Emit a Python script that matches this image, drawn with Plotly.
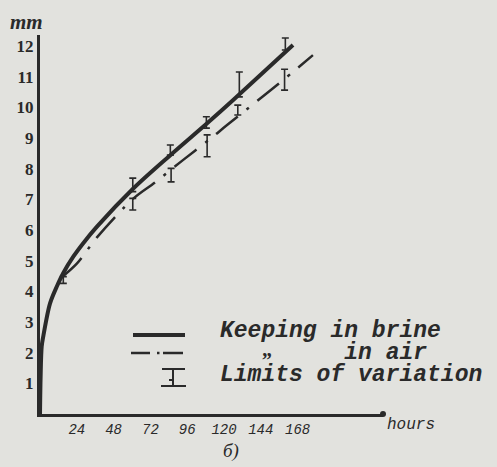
import plotly.graph_objects as go

# ---- data ----
brine_hours = [0, 0.4, 1.1, 2.2, 6.5, 10.9, 15.2, 21.7, 28.2, 37, 61, 85, 109, 126, 165]
brine_mm = [0, 1.2, 2.2, 2.55, 3.6, 4.15, 4.6, 5.13, 5.57, 6.1, 7.36, 8.44, 9.48, 10.24, 12.03]

air_hours = [14, 24, 37, 61, 75, 93, 111, 122, 141, 154, 178]
air_mm = [4.45, 4.9, 5.75, 7.03, 7.55, 8.27, 8.97, 9.42, 10.18, 10.7, 11.7]

brine_bar_hours = [15.2, 60.5, 85, 108.5, 130, 160]
brine_bar_low = [4.26, 7.25, 8.44, 9.32, 10.34, 11.87]
brine_bar_high = [4.48, 7.69, 8.77, 9.69, 11.15, 12.26]

air_bar_hours = [60.5, 85.5, 109, 129, 159.5]
air_bar_low = [6.65, 7.57, 8.39, 9.75, 10.56]
air_bar_high = [7.03, 8.01, 9.10, 10.07, 11.24]

x_ticks = [24, 48, 72, 96, 120, 144, 168]
y_ticks = list(range(1, 13))

NB = "\u00a0"
legend_labels = ["Keeping in brine", NB * 9 + "in air", "Limits of variation"]
ditto_mark = "\u201e"

INK = "#2a2a2a"
BG = "#e2e2de"

W, H = 497, 467
L, R, T, B = 40, 383, 35, 414  # plot area in pixels


def px(xp):
    return (xp - L) / (R - L)


def py(yp):
    return (B - yp) / (B - T)


fig = go.Figure()

fig.add_trace(go.Scatter(x=brine_hours, y=brine_mm, mode="lines",
                         line=dict(color=INK, width=4, shape="spline", smoothing=0.9),
                         hoverinfo="skip"))
fig.add_trace(go.Scatter(x=air_hours, y=air_mm, mode="lines",
                         line=dict(color=INK, width=2.5, shape="spline", smoothing=0.9,
                                   dash="28px,11px,3px,11px"),
                         hoverinfo="skip"))


def bars(xs, lo, hi):
    mid = [(a + b) / 2 for a, b in zip(lo, hi)]
    err = [(b - a) / 2 for a, b in zip(lo, hi)]
    return go.Scatter(x=xs, y=mid, mode="markers", marker=dict(size=1, color="rgba(0,0,0,0)"),
                      error_y=dict(type="data", array=err, visible=True, color=INK,
                                   thickness=1.6, width=3.5),
                      hoverinfo="skip")


fig.add_trace(bars(brine_bar_hours, brine_bar_low, brine_bar_high))
fig.add_trace(bars(air_bar_hours, air_bar_low, air_bar_high))

x_range = [0, (R - L) / 36.8 * 24]
y_range = [0, (B - T) / 30.67]

fig.update_layout(
    width=W, height=H,
    margin=dict(l=L, r=W - R, t=T, b=H - B, pad=0, autoexpand=False),
    paper_bgcolor=BG, plot_bgcolor=BG,
    showlegend=False,
    xaxis=dict(range=x_range, showgrid=False, zeroline=False, showline=True, automargin=False,
               linecolor=INK, linewidth=3, ticks="", tickvals=x_ticks,
               ticktext=[str(v) for v in x_ticks],
               tickfont=dict(family="Liberation Mono", size=14, color=INK, style="italic")),
    yaxis=dict(range=y_range, showgrid=False, zeroline=False, showline=True, automargin=False,
               linecolor=INK, linewidth=3, ticks="", tickvals=y_ticks,
               ticktext=[str(v) for v in y_ticks],
               tickfont=dict(family="Liberation Serif", size=17, color=INK, weight="bold")),
)

# legend samples (decoration)
shapes = []
shapes.append(dict(type="line", xref="paper", yref="paper", x0=px(133), x1=px(185),
                   y0=py(335), y1=py(335), line=dict(color=INK, width=4)))
shapes.append(dict(type="line", xref="paper", yref="paper", x0=px(131), x1=px(150),
                   y0=py(353), y1=py(353), line=dict(color=INK, width=2.5)))
shapes.append(dict(type="line", xref="paper", yref="paper", x0=px(157), x1=px(159.5),
                   y0=py(353), y1=py(353), line=dict(color=INK, width=2.5)))
shapes.append(dict(type="line", xref="paper", yref="paper", x0=px(163), x1=px(183),
                   y0=py(353), y1=py(353), line=dict(color=INK, width=2.5)))
# error-bar symbol
for (x0, x1, y0, y1) in [(162, 185, 369, 369), (173, 173, 369, 386),
                         (161, 186, 386, 386), (169, 173, 380, 380)]:
    shapes.append(dict(type="line", xref="paper", yref="paper", x0=px(x0), x1=px(x1),
                       y0=py(y0), y1=py(y1), line=dict(color=INK, width=2)))
# dot at end of x axis
shapes.append(dict(type="circle", xref="paper", yref="paper", x0=px(380), x1=px(386),
                   y0=py(411), y1=py(417), fillcolor=INK, line=dict(color=INK, width=0)))
fig.update_layout(shapes=shapes)

ann_font = dict(family="Liberation Mono", size=23, color=INK, style="italic", weight="bold")
anns = []
for lbl, yy in zip(legend_labels, [331, 353, 375]):
    anns.append(dict(text=lbl, xref="paper", yref="paper", x=px(218), y=py(yy),
                     xanchor="left", yanchor="middle", showarrow=False, font=ann_font))
anns.append(dict(text=ditto_mark, xref="paper", yref="paper", x=px(267), y=py(349),
                 xanchor="center", yanchor="middle", showarrow=False,
                 font=dict(family="Liberation Serif", size=20, color=INK, weight="bold")))
anns.append(dict(text="mm", xref="paper", yref="paper", x=px(26), y=py(22),
                 xanchor="center", yanchor="middle", showarrow=False,
                 font=dict(family="Liberation Serif", size=21, color=INK, style="italic", weight="bold")))
anns.append(dict(text="hours", xref="paper", yref="paper", x=px(385), y=py(425),
                 xanchor="left", yanchor="middle", showarrow=False,
                 font=dict(family="Liberation Mono", size=16, color=INK, style="italic")))
anns.append(dict(text="б)", xref="paper", yref="paper", x=px(231), y=py(451),
                 xanchor="center", yanchor="middle", showarrow=False,
                 font=dict(family="Liberation Serif", size=19, color=INK, style="italic")))
fig.update_layout(annotations=anns)

fig.write_html(
    "out.html",
    config={"displayModeBar": False},
    post_script="document.body.style.margin='0';document.body.style.background='" + BG + "';",
)
